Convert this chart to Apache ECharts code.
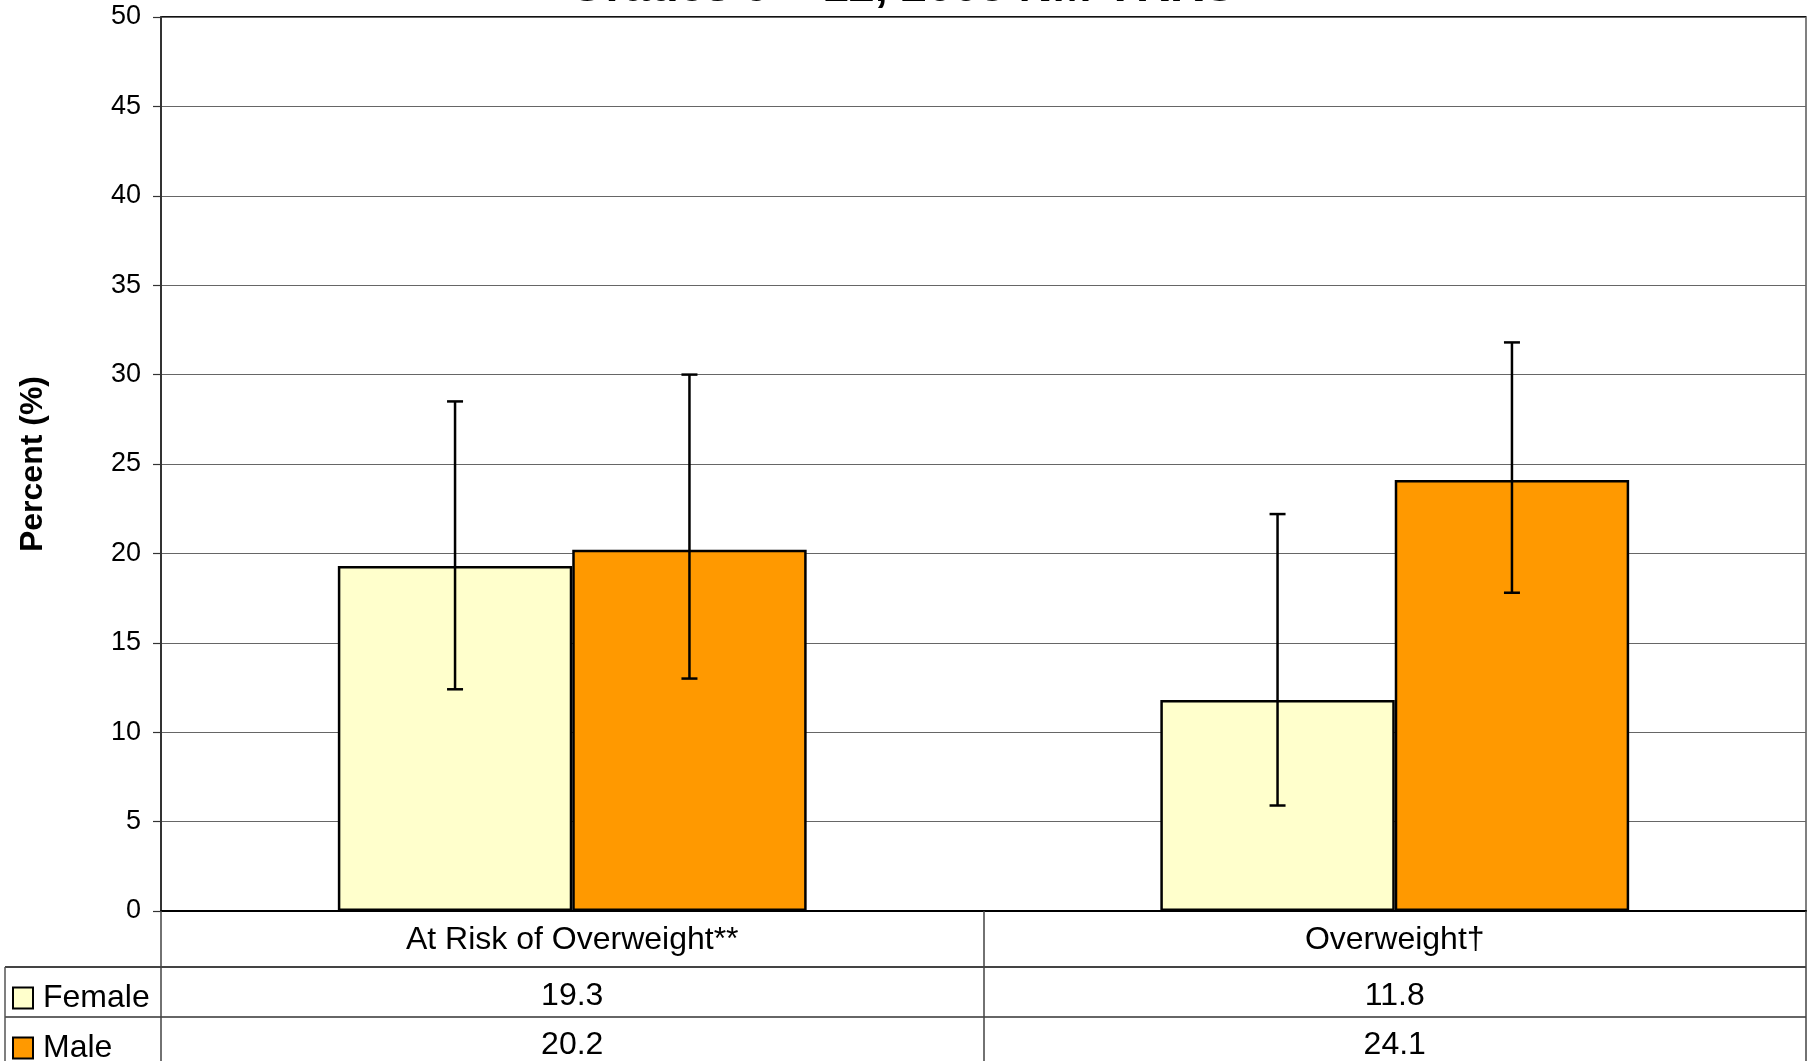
<!DOCTYPE html>
<html>
<head>
<meta charset="utf-8">
<script src="https://cdn.jsdelivr.net/npm/echarts@6/dist/echarts.min.js"></script>
<style>
html,body{margin:0;padding:0;background:#fff;}
#chart{width:1813px;height:1061px;}
</style>
</head>
<body>
<div id="chart"></div>
<script>
var titleText = 'Grades 9 \u2013 12, 2005 NM YRRS';
var categories = ['At Risk of Overweight**', 'Overweight\u2020'];
var seriesNames = ['Female', 'Male'];
var femaleValues = [19.3, 11.8];
var maleValues = [20.2, 24.1];
var femaleLow = [12.4, 5.9];
var femaleHigh = [28.5, 22.2];
var maleLow = [13.0, 17.8];
var maleHigh = [30.0, 31.8];
var yTicks = [0, 5, 10, 15, 20, 25, 30, 35, 40, 45, 50];

var FONT = 'Liberation Sans, Arial, sans-serif';
var CAT_GAP = 0.43;

function errData(low, high) {
  return categories.map(function (c, i) { return [i, low[i], high[i]]; });
}

function errRender(side) {
  return function (params, api) {
    var idx = api.value(0);
    var base = api.coord([idx, 0]);
    var bandW = api.size([1, 0])[0];
    var barW = bandW * (1 - CAT_GAP) / 2;
    var x = base[0] + side * barW / 2;
    var yLow = api.coord([idx, api.value(1)])[1];
    var yHigh = api.coord([idx, api.value(2)])[1];
    var cap = 8;
    var st = { stroke: '#000', lineWidth: 2.5 };
    return {
      type: 'group',
      children: [
        { type: 'line', shape: { x1: x, y1: yLow, x2: x, y2: yHigh }, style: st },
        { type: 'line', shape: { x1: x - cap, y1: yHigh, x2: x + cap, y2: yHigh }, style: st },
        { type: 'line', shape: { x1: x - cap, y1: yLow, x2: x + cap, y2: yLow }, style: st }
      ]
    };
  };
}

function legendFor(name, top) {
  return {
    data: [name],
    orient: 'vertical',
    left: 12,
    top: top,
    padding: 0,
    itemWidth: 20,
    itemHeight: 21,
    itemGap: 10,
    icon: 'rect',
    selectedMode: false,
    itemStyle: { borderColor: '#000', borderWidth: 2 },
    textStyle: { fontFamily: FONT, fontSize: 32, color: '#000', padding: [0, 0, 0, 5] }
  };
}

var chart = echarts.init(document.getElementById('chart'), null, { renderer: 'canvas' });

var option = {
  animation: false,
  backgroundColor: '#fff',
  title: {
    text: titleText,
    left: 564,
    top: -40,
    textStyle: { fontFamily: FONT, fontSize: 47, fontWeight: 'bold', color: '#000' }
  },
  grid: {
    left: 161, right: 7, top: 17, bottom: 148,
    show: true, borderColor: '#808080', borderWidth: 2, backgroundColor: 'transparent'
  },
  legend: [legendFor(seriesNames[0], 982), legendFor(seriesNames[1], 1032)],
  xAxis: [
    {
      type: 'category',
      data: categories,
      position: 'bottom',
      axisLine: { show: true, lineStyle: { color: '#000', width: 2 } },
      axisTick: { show: true, length: 150, interval: 0, lineStyle: { color: '#444', width: 1.5 } },
      axisLabel: {
        interval: 0, margin: 29, verticalAlign: 'middle',
        fontFamily: FONT, fontSize: 32, color: '#000'
      },
      splitLine: { show: false }
    },
    {
      type: 'category',
      data: categories,
      position: 'bottom',
      offset: 54,
      axisLine: { show: false },
      axisTick: { show: false },
      axisLabel: {
        interval: 0, margin: 31, verticalAlign: 'middle',
        fontFamily: FONT, fontSize: 32, color: '#000',
        formatter: function (v, i) { return femaleValues[i].toFixed(1); }
      }
    },
    {
      type: 'category',
      data: categories,
      position: 'bottom',
      offset: 104,
      axisLine: { show: false },
      axisTick: { show: false },
      axisLabel: {
        interval: 0, margin: 30, verticalAlign: 'middle',
        fontFamily: FONT, fontSize: 32, color: '#000',
        formatter: function (v, i) { return maleValues[i].toFixed(1); }
      }
    }
  ],
  yAxis: {
    type: 'value',
    min: yTicks[0],
    max: yTicks[yTicks.length - 1],
    interval: yTicks[1] - yTicks[0],
    name: 'Percent (%)',
    nameLocation: 'middle',
    nameRotate: 90,
    nameGap: 112,
    nameTextStyle: { fontFamily: FONT, fontSize: 32, fontWeight: 'bold', color: '#000' },
    axisLine: { show: true, lineStyle: { color: '#333', width: 2 } },
    axisTick: { show: true, length: 8, lineStyle: { color: '#333', width: 1.2 } },
    axisLabel: { margin: 20, fontFamily: FONT, fontSize: 27, color: '#000' },
    splitLine: { show: true, lineStyle: { color: '#666', width: 1.2 } }
  },
  graphic: [
    { type: 'line', shape: { x1: 5, y1: 967, x2: 1806, y2: 967 }, style: { stroke: '#444', lineWidth: 2 } },
    { type: 'line', shape: { x1: 5, y1: 1017, x2: 1806, y2: 1017 }, style: { stroke: '#666', lineWidth: 2 } },
    { type: 'line', shape: { x1: 5, y1: 967, x2: 5, y2: 1061 }, style: { stroke: '#555', lineWidth: 1.5 } },
    { type: 'line', shape: { x1: 161, y1: 17, x2: 1806, y2: 17 }, style: { stroke: '#111', lineWidth: 2 } }
  ],
  series: [
    {
      name: seriesNames[0],
      type: 'bar',
      data: femaleValues,
      barGap: '0%',
      barCategoryGap: (CAT_GAP * 100) + '%',
      itemStyle: { color: '#FFFFCC', borderColor: '#000', borderWidth: 2.5 }
    },
    {
      name: seriesNames[1],
      type: 'bar',
      data: maleValues,
      barGap: '0%',
      barCategoryGap: (CAT_GAP * 100) + '%',
      itemStyle: { color: '#FF9900', borderColor: '#000', borderWidth: 2.5 }
    },
    {
      name: 'Female CI',
      type: 'custom',
      data: errData(femaleLow, femaleHigh),
      renderItem: errRender(-1),
      encode: { x: 0, y: [1, 2] },
      z: 10
    },
    {
      name: 'Male CI',
      type: 'custom',
      data: errData(maleLow, maleHigh),
      renderItem: errRender(1),
      encode: { x: 0, y: [1, 2] },
      z: 10
    }
  ]
};
chart.setOption(option);
</script>
</body>
</html>
